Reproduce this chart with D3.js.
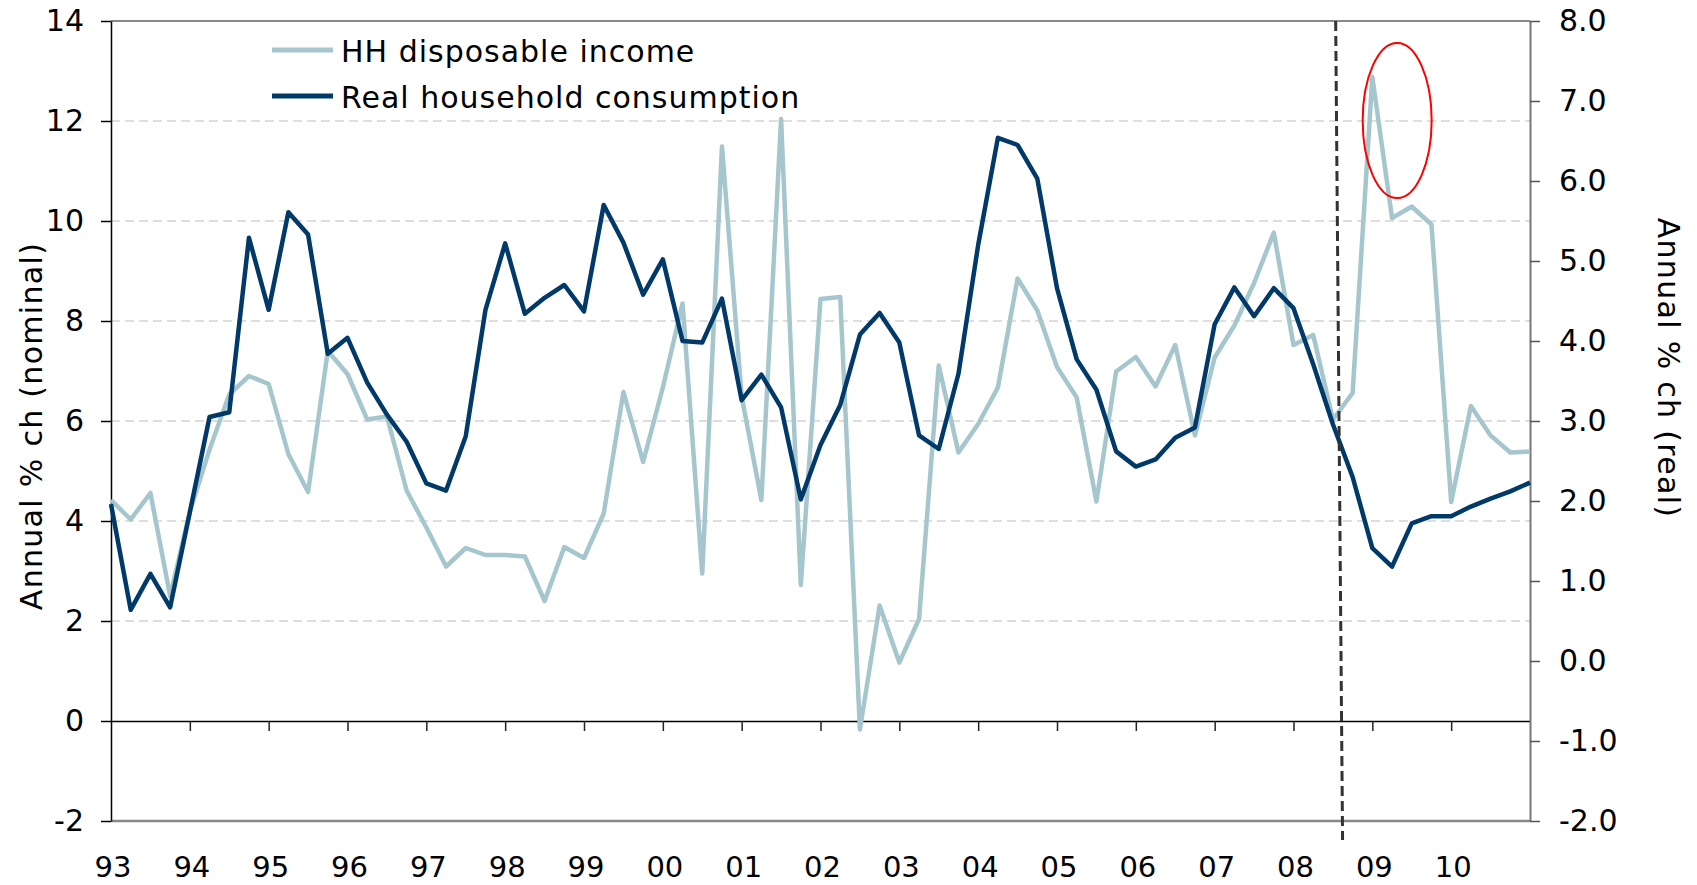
<!DOCTYPE html>
<html>
<head>
<meta charset="utf-8">
<script src="https://cdn.jsdelivr.net/npm/d3@7"></script>
<style>
  body { margin: 0; background: #fff; }
  text { font-family: "DejaVu Sans", sans-serif; fill: #000; }
</style>
</head>
<body>
<div id="chart"></div>
<script>
// year labels, one every 4 quarters
var years = ['93','94','95','96','97','98','99','00','01','02','03','04','05','06','07','08','09','10']

// HH disposable income, annual % ch (nominal, left axis), quarterly
var income = [
  4.42, 4.03, 4.56, 2.50, 4.19, 5.43, 6.53, 6.90, 6.74, 5.34, 4.58, 7.40,
  6.94, 6.03, 6.09, 4.61, 3.87, 3.09, 3.46, 3.32, 3.32, 3.29, 2.40, 3.48,
  3.26, 4.15, 6.58, 5.18, 6.67, 8.35, 2.95, 11.49, 6.49, 4.42, 12.04, 2.72,
  8.44, 8.48, -0.17, 2.31, 1.17, 2.04, 7.11, 5.37, 5.94, 6.67, 8.85, 8.21,
  7.08, 6.47, 4.39, 6.99, 7.28, 6.69, 7.52, 5.71, 7.27, 7.91, 8.76, 9.77,
  7.52, 7.72, 6.03, 6.56, 12.88, 10.06, 10.29, 9.93, 4.38, 6.30, 5.71, 5.37,
  5.39
]

// Real household consumption, annual % ch (real, right axis), quarterly
var consumption = [
  1.96, 0.64, 1.09, 0.67, 1.86, 3.05, 3.11, 5.29, 4.39, 5.61, 5.33, 3.84,
  4.04, 3.48, 3.08, 2.74, 2.22, 2.13, 2.81, 4.39, 5.22, 4.34, 4.54, 4.70,
  4.37, 5.70, 5.23, 4.58, 5.02, 4.00, 3.98, 4.53, 3.26, 3.58, 3.17, 2.02,
  2.70, 3.20, 4.08, 4.35, 3.98, 2.82, 2.65, 3.59, 5.20, 6.54, 6.45, 6.03,
  4.66, 3.77, 3.39, 2.62, 2.43, 2.52, 2.79, 2.92, 4.21, 4.67, 4.31, 4.66,
  4.41, 3.71, 2.96, 2.30, 1.41, 1.18, 1.72, 1.81, 1.81, 1.93, 2.03, 2.12,
  2.23
]

var leftTicks = [-2, 0, 2, 4, 6, 8, 10, 12, 14]
var rightTicks = [-2, -1, 0, 1, 2, 3, 4, 5, 6, 7, 8]
var seriesNames = ['HH disposable income', 'Real household consumption']

// annotations: dashed break line and highlight ellipse, in data units
var breakLine = [{i: 62.14, v: 14}, {i: 62.49, v: -2.38}]
var highlight = {i: 65.26, v: 12.01, ri: 1.75, rv: 1.55}

var lightCol = '#a5c6cd'
var darkCol = '#013a68'

var svg = d3.select('#chart').append('svg').attr('width', 1697).attr('height', 885)

var x = d3.scaleLinear().domain([0, income.length - 1]).range([111, 1530])
var yL = d3.scaleLinear().domain([-2, 14]).range([821, 21])
var yR = d3.scaleLinear().domain([-2, 8]).range([821, 21])

// dashed gridlines
svg.append('g').selectAll('line')
  .data(leftTicks.filter(function(d){ return d != -2 && d != 0 && d != 14 }))
  .enter().append('line')
  .attr('x1', x(0)).attr('x2', x(72))
  .attr('y1', yL).attr('y2', yL)
  .attr('stroke', '#d4d4d4').attr('stroke-width', 1.5).attr('stroke-dasharray', '9,5')

// frame top / bottom
svg.append('line').attr('x1', x(0)).attr('x2', x(72)).attr('y1', yL(14)).attr('y2', yL(14))
  .attr('stroke', '#888').attr('stroke-width', 2)
svg.append('line').attr('x1', x(0)).attr('x2', x(72)).attr('y1', yL(-2)).attr('y2', yL(-2))
  .attr('stroke', '#888').attr('stroke-width', 2.5)

// zero line with quarter ticks
var xTickIdx = d3.range(4, 72, 4)
var xAxis = svg.append('g').attr('transform', 'translate(0,' + yL(0) + ')')
  .call(d3.axisBottom(x).tickValues(xTickIdx).tickSize(10).tickSizeOuter(0).tickFormat(''))
xAxis.select('.domain').attr('stroke', '#000').attr('stroke-width', 1.5)
xAxis.selectAll('.tick line').attr('stroke', '#222').attr('stroke-width', 1.5)

// year labels
svg.append('g').selectAll('text')
  .data(years)
  .enter().append('text')
  .attr('x', function(d, i){ return x(i * 4) + 2 })
  .attr('y', 877)
  .attr('text-anchor', 'middle')
  .style('font-size', '29px')
  .text(function(d){ return d })

// left axis
var leftAxis = svg.append('g').attr('transform', 'translate(' + x(0) + ',0)')
  .call(d3.axisLeft(yL).tickValues(leftTicks).tickSize(10).tickSizeOuter(0).tickPadding(17)
    .tickFormat(function(d){ return String(d) }))
leftAxis.select('.domain').attr('stroke', '#000').attr('stroke-width', 1.5)
leftAxis.selectAll('.tick line').attr('stroke', '#000').attr('stroke-width', 1.5)
leftAxis.selectAll('.tick text').style('font-size', '30px').style('font-family', '"DejaVu Sans", sans-serif').attr('fill', '#000')

// right axis
var rightAxis = svg.append('g').attr('transform', 'translate(' + x(72) + ',0)')
  .call(d3.axisRight(yR).tickValues(rightTicks).tickSize(10).tickSizeOuter(0).tickPadding(19)
    .tickFormat(function(d){ return d.toFixed(1) }))
rightAxis.select('.domain').attr('stroke', '#777').attr('stroke-width', 2)
rightAxis.selectAll('.tick line').attr('stroke', '#555').attr('stroke-width', 1.5)
rightAxis.selectAll('.tick text').style('font-size', '30px').style('font-family', '"DejaVu Sans", sans-serif').attr('fill', '#000')

// axis titles
svg.append('text')
  .attr('transform', 'translate(42,426) rotate(-90)')
  .attr('text-anchor', 'middle')
  .style('font-size', '30px').style('letter-spacing', '1.3px')
  .text('Annual % ch (nominal)')
svg.append('text')
  .attr('transform', 'translate(1658,368) rotate(90)')
  .attr('text-anchor', 'middle')
  .style('font-size', '30px').style('letter-spacing', '1.3px')
  .text('Annual % ch (real)')

// series
var lineL = d3.line().x(function(d, i){ return x(i) }).y(function(d){ return yL(d) })
var lineR = d3.line().x(function(d, i){ return x(i) }).y(function(d){ return yR(d) })

svg.append('path').attr('d', lineL(income))
  .attr('fill', 'none').attr('stroke', lightCol).attr('stroke-width', 4.5).attr('stroke-linejoin', 'round')
svg.append('path').attr('d', lineR(consumption))
  .attr('fill', 'none').attr('stroke', darkCol).attr('stroke-width', 4.5).attr('stroke-linejoin', 'round')

// break line
svg.append('line')
  .attr('x1', x(breakLine[0].i)).attr('y1', yL(breakLine[0].v))
  .attr('x2', x(breakLine[1].i)).attr('y2', yL(breakLine[1].v))
  .attr('stroke', '#333').attr('stroke-width', 3).attr('stroke-dasharray', '10,5')

// highlight ellipse
svg.append('ellipse')
  .attr('cx', x(highlight.i)).attr('cy', yL(highlight.v))
  .attr('rx', x(highlight.ri) - x(0)).attr('ry', yL(0) - yL(highlight.rv))
  .attr('fill', 'none').attr('stroke', '#f00').attr('stroke-width', 2)

// legend
var legend = svg.append('g').selectAll('g')
  .data(seriesNames)
  .enter().append('g')
  .attr('transform', function(d, i){ return 'translate(272,' + (50 + i * 46) + ')' })
legend.append('line').attr('x1', 0).attr('x2', 61)
  .attr('stroke', function(d, i){ return i ? darkCol : lightCol }).attr('stroke-width', 5)
legend.append('text').attr('x', 69).attr('y', 12)
  .style('font-size', '30px').style('letter-spacing', '1px')
  .text(function(d){ return d })
</script>
</body>
</html>
